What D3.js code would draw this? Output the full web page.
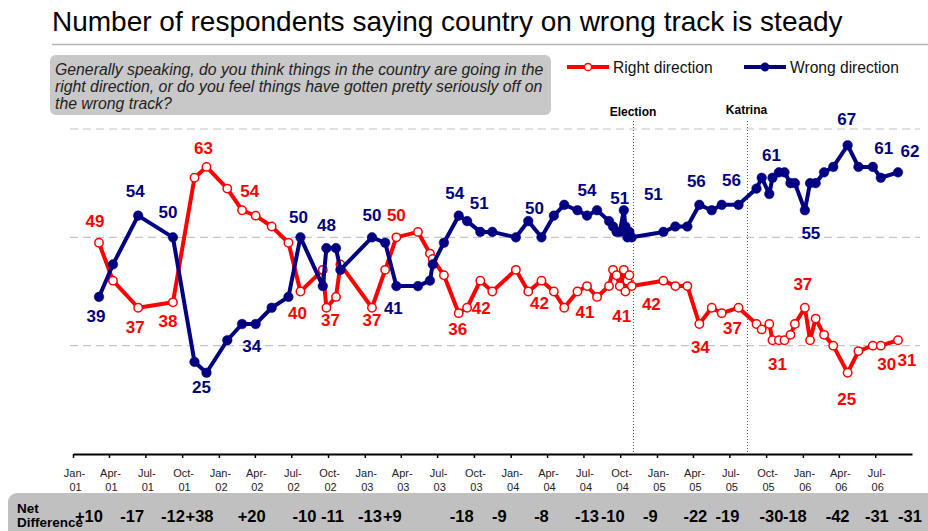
<!DOCTYPE html>
<html>
<head>
<meta charset="utf-8">
<script src="https://cdn.jsdelivr.net/npm/d3@7"></script>
<style>
  body { margin: 0; background: #fff; }
  svg { display: block; font-family: "Liberation Sans", Arial, sans-serif; }
</style>
</head>
<body>
<div id="chart"></div>
<script>
const pollDates = [
  "2001-03-07", "2001-04-11", "2001-06-13", "2001-09-08", "2001-11-01", "2001-12-01",
  "2002-01-22", "2002-02-28", "2002-04-03", "2002-05-13", "2002-06-24", "2002-07-24",
  "2002-09-18", "2002-09-27", "2002-10-21", "2002-11-01", "2003-01-19", "2003-02-21",
  "2003-03-21", "2003-05-14", "2003-06-13", "2003-06-20", "2003-07-18", "2003-08-24",
  "2003-09-14", "2003-10-17", "2003-11-16", "2004-01-14", "2004-02-14", "2004-03-18",
  "2004-04-18", "2004-05-14", "2004-06-16", "2004-07-10", "2004-08-04", "2004-09-03",
  "2004-09-13", "2004-09-22", "2004-09-30", "2004-10-10", "2004-10-14", "2004-10-19",
  "2004-10-24", "2004-10-30", "2005-01-17", "2005-02-16", "2005-03-18", "2005-04-17",
  "2005-05-18", "2005-06-12", "2005-07-24", "2005-09-07", "2005-09-20", "2005-10-09",
  "2005-10-17", "2005-11-02", "2005-11-16", "2005-12-01", "2005-12-12", "2006-01-06",
  "2006-01-19", "2006-02-02", "2006-02-23", "2006-03-18", "2006-04-23", "2006-05-20",
  "2006-06-25", "2006-07-15", "2006-08-27"
];

const rightDirection = [
  49, 42, 37, 38, 61, 63, 59, 55, 54, 52, 49, 40, 44, 37, 39, 45, 37, 44, 50, 51,
  47, 46, 43, 36, 37, 42, 40, 44, 40, 42, 40, 37, 40, 41, 39, 41, 44, 43, 41, 44,
  40, 42, 43, 41, 42, 41, 41, 34, 37, 36, 37, 34, 33, 34, 31, 31, 31, 32, 34, 37,
  31, 35, 32, 30, 25, 29, 30, 30, 31
];

const wrongDirection = [
  39, 45, 54, 50, 27, 25, 31, 34, 34, 37, 39, 50, 41, 48, 48, 44, 50, 49, 41, 41,
  42, 45, 49, 54, 53, 51, 51, 50, 53, 50, 54, 56, 55, 54, 55, 53, 52, 51, 51, 55,
  52, 50, 51, 50, 51, 52, 52, 56, 55, 56, 56, 59, 61, 58, 61, 62, 62, 60, 60, 55,
  60, 60, 62, 63, 67, 63, 63, 61, 62
];

// polls that carry value labels and a net difference
const labeledPolls = [0, 2, 3, 5, 8, 11, 13, 16, 18, 23, 25, 29, 33, 38, 44, 47, 50, 54, 59, 64, 67, 68];

const tickLabels = [
  "Jan-01", "Apr-01", "Jul-01", "Oct-01", "Jan-02", "Apr-02", "Jul-02", "Oct-02",
  "Jan-03", "Apr-03", "Jul-03", "Oct-03", "Jan-04", "Apr-04", "Jul-04", "Oct-04",
  "Jan-05", "Apr-05", "Jul-05", "Oct-05", "Jan-06", "Apr-06", "Jul-06"
];

const eventNames = ["Election", "Katrina"];
const eventDates = ["2004-11-02", "2005-08-13"];

const gridValues = [30, 50, 70];

// label placement: [right dx, right dy, wrong dx, wrong dy, net dx]
const labelLayout = [
  [-4, -21, -3, 20, -10], [-3, 20, -3, -24, -6], [-5, 19, -5, -25, 0], [-3, -18, -5, 15, -7],
  [-6, -24, -4, 22, -4], [-3, 22, -2, -20, 4], [4, 13, 0, -23, 6], [0, 13, 0, -22, -2],
  [0, -22, -3, 22, -4], [-1, 16, -4, -22, 3], [1, 28, -1, -28, 19], [-2, 23, -7, -29, 0],
  [-2, 26, 0, -25, 0], [2, 30, 0, -33, -7], [-12, 24, -10, -37, -13], [1, 23, -3, -23, -4],
  [-6, 21, -7, -24, -11], [5, 24, -1, -22, -1], [-2, -23, 6, 23, -10], [-1, 27, -1, -26, -10],
  [6, 19, 3, -29, -4], [9, 20, 12, -21, 12]
];

const width = 928,
      height = 531;

const red = "#ff0000",
      navy = "#000080";

const parseDate = d3.utcParse("%Y-%m-%d");
const parseTick = d3.utcParse("%b-%y");

const svg = d3.select("#chart").append("svg")
    .attr("width", width)
    .attr("height", height);

const x = d3.scaleUtc()
    .domain([parseDate("2001-01-01"), parseDate("2006-10-01")])
    .range([73, 912]);

const y = d3.scaleLinear()
    .domain([10, 70])
    .range([454, 129]);

// title
svg.append("text")
    .attr("x", 52)
    .attr("y", 31)
    .attr("font-size", 28)
    .attr("fill", "#000")
    .text("Number of respondents saying country on wrong track is steady");

svg.append("line")
    .attr("x1", 52).attr("x2", width)
    .attr("y1", 44.5).attr("y2", 44.5)
    .attr("stroke", "#b4b4b4")
    .attr("stroke-width", 1.5);

// question box
svg.append("rect")
    .attr("x", 50).attr("y", 55)
    .attr("width", 501).attr("height", 60)
    .attr("rx", 6)
    .attr("fill", "#c8c8c8");

const question = [
  "Generally speaking, do you think things in the country are going in the",
  "right direction, or do you feel things have gotten pretty seriously off on",
  "the wrong track?"
];
svg.append("g").selectAll("text")
    .data(question)
    .join("text")
    .attr("x", 55)
    .attr("y", (d, i) => 75 + i * 17)
    .attr("font-size", 15.8)
    .attr("font-style", "italic")
    .attr("fill", "#222")
    .text(d => d);

// gridlines
svg.append("g").selectAll("line")
    .data(gridValues)
    .join("line")
    .attr("x1", 70).attr("x2", 920)
    .attr("y1", d => y(d)).attr("y2", d => y(d))
    .attr("stroke", "#c4c4c4")
    .attr("stroke-width", 1.2)
    .attr("stroke-dasharray", "8,5");

// event markers
const eventG = svg.append("g");
eventG.selectAll("line")
    .data(eventDates)
    .join("line")
    .attr("x1", d => Math.round(x(parseDate(d))) + 0.5)
    .attr("x2", d => Math.round(x(parseDate(d))) + 0.5)
    .attr("y1", 121).attr("y2", y(10))
    .attr("stroke", "#555")
    .attr("stroke-dasharray", "1,2");
eventG.selectAll("text")
    .data(eventNames)
    .join("text")
    .attr("x", (d, i) => x(parseDate(eventDates[i])))
    .attr("y", (d, i) => i === 0 ? 116 : 114)
    .attr("text-anchor", "middle")
    .attr("font-size", 12)
    .attr("font-weight", "bold")
    .text(d => d);

// x axis
const tickDates = tickLabels.map(parseTick);
const xAxis = svg.append("g")
    .attr("transform", `translate(0,${y(10)})`)
    .call(d3.axisBottom(x)
        .tickValues(tickDates)
        .tickSize(4)
        .tickSizeOuter(0)
        .tickFormat((d, i) => tickLabels[i]));

xAxis.select(".domain").attr("stroke", "#000").attr("stroke-width", 2);
xAxis.selectAll(".tick line").attr("stroke", "#000").attr("stroke-width", 1.5);
xAxis.selectAll(".tick text")
    .attr("font-family", "'Liberation Sans', Arial, sans-serif")
    .attr("font-size", 11)
    .attr("fill", "#222")
    .attr("y", 0)
    .each(function(d, i) {
        const parts = tickLabels[i].split("-");
        const t = d3.select(this).text(null);
        t.append("tspan").attr("x", 1).attr("dy", "2.05em").text(parts[0] + "-");
        t.append("tspan").attr("x", 2).attr("dy", "1.3em").text(parts[1]);
    });

// series
const series = [
  {name: "Right direction", values: rightDirection, color: red, open: true},
  {name: "Wrong direction", values: wrongDirection, color: navy, open: false}
];

const line = d3.line()
    .x((d, i) => x(parseDate(pollDates[i])))
    .y(d => y(d));

series.forEach(s => {
    const g = svg.append("g");
    g.append("path")
        .datum(s.values)
        .attr("fill", "none")
        .attr("stroke", s.color)
        .attr("stroke-width", 4)
        .attr("stroke-linejoin", "round")
        .attr("d", line);
    g.selectAll("circle")
        .data(s.values)
        .join("circle")
        .attr("cx", (d, i) => x(parseDate(pollDates[i])))
        .attr("cy", d => y(d))
        .attr("r", s.open ? 4.2 : 4.8)
        .attr("fill", s.open ? "#fff" : s.color)
        .attr("stroke", s.color)
        .attr("stroke-width", s.open ? 1.5 : 0.5);
});

// value labels
const labelG = svg.append("g")
    .attr("font-size", 17)
    .attr("font-weight", "bold")
    .attr("text-anchor", "middle")
    .attr("dominant-baseline", "central");

labeledPolls.forEach((p, k) => {
    const px = x(parseDate(pollDates[p]));
    const [rdx, rdy, wdx, wdy] = labelLayout[k];
    labelG.append("text")
        .attr("x", px + rdx)
        .attr("y", y(rightDirection[p]) + rdy)
        .attr("fill", red)
        .text(rightDirection[p]);
    labelG.append("text")
        .attr("x", px + wdx)
        .attr("y", y(wrongDirection[p]) + wdy)
        .attr("fill", navy)
        .text(wrongDirection[p]);
});

// legend
const legend = svg.append("g").attr("transform", "translate(567,67)");
series.forEach((s, i) => {
    const g = legend.append("g").attr("transform", `translate(${i * 177},0)`);
    g.append("line")
        .attr("x1", 0).attr("x2", 42)
        .attr("stroke", s.color)
        .attr("stroke-width", 4);
    g.append("circle")
        .attr("cx", 21)
        .attr("r", s.open ? 3.6 : 4.2)
        .attr("fill", s.open ? "#fff" : s.color)
        .attr("stroke", s.color)
        .attr("stroke-width", s.open ? 1.5 : 0.5);
    g.append("text")
        .attr("x", 46)
        .attr("y", 5.5)
        .attr("font-size", 15.6)
        .attr("fill", "#111")
        .text(s.name);
});

// net difference band
svg.append("rect")
    .attr("x", 8).attr("y", 493)
    .attr("width", 940).attr("height", 50)
    .attr("rx", 9)
    .attr("fill", "#c0c0c0");

svg.append("text")
    .attr("x", 17).attr("y", 513)
    .attr("font-size", 13.5)
    .attr("font-weight", "bold")
    .text("Net");
svg.append("text")
    .attr("x", 17).attr("y", 527)
    .attr("font-size", 13.5)
    .attr("font-weight", "bold")
    .text("Difference");

const signed = d3.format("+d");
svg.append("g")
    .attr("font-size", 16.5)
    .attr("font-weight", "bold")
    .attr("text-anchor", "middle")
    .selectAll("text")
    .data(labeledPolls)
    .join("text")
    .attr("x", (p, k) => x(parseDate(pollDates[p])) + labelLayout[k][4])
    .attr("y", 522)
    .text(p => {
        const diff = rightDirection[p] - wrongDirection[p];
        return diff > 0 ? signed(diff) : String(diff);
    });
</script>
</body>
</html>
